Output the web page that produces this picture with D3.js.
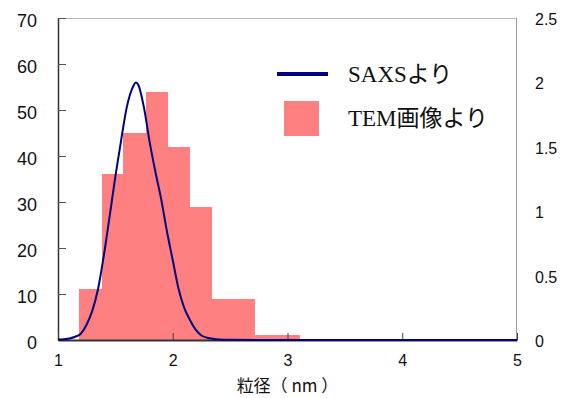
<!DOCTYPE html>
<html>
<head>
<meta charset="utf-8">
<script src="https://cdn.jsdelivr.net/npm/d3@7"></script>
<style>
  body { margin: 0; background: #fff; }
  svg { display: block; }
</style>
</head>
<body>
<div class="chart"></div>
<script>
// Histogram from TEM images (left axis, counts)
var binStart = [1.18, 1.38, 1.57, 1.77, 1.96, 2.15, 2.34, 2.53, 2.72, 2.92];
var binEnd   = [1.38, 1.57, 1.77, 1.96, 2.15, 2.34, 2.53, 2.72, 2.92, 3.11];
var temCount = [11, 36, 45, 54, 42, 29, 9, 9, 1, 1];

// SAXS size distribution (right axis)
var saxsSize = [1.00, 1.05, 1.10, 1.15, 1.20, 1.25, 1.30, 1.35, 1.40, 1.45, 1.50, 1.55, 1.60, 1.65, 1.68, 1.70,
                1.75, 1.80, 1.85, 1.90, 1.95, 2.00, 2.05, 2.10, 2.15, 2.20, 2.25, 2.30, 2.35, 2.40, 2.50, 5.00];
var saxsValue = [0.003, 0.006, 0.012, 0.025, 0.05, 0.12, 0.23, 0.40, 0.66, 0.96, 1.27, 1.55, 1.81, 1.96, 2.00, 1.98,
                 1.80, 1.53, 1.30, 1.09, 0.84, 0.62, 0.40, 0.25, 0.155, 0.08, 0.035, 0.018, 0.009, 0.004, 0.001, 0];

var xTicks = [1, 2, 3, 4, 5];
var yLeftTicks = [0, 10, 20, 30, 40, 50, 60, 70];
var yRightTicks = [0, 0.5, 1, 1.5, 2, 2.5];

var legendNames = ["SAXSより", "TEM画像より"];
var xTitle = "粒径（ nm ）";

// Set SVG dimensions
var svgWidth = 574;
var svgHeight = 398;

var margin = { top: 18, right: 57, bottom: 58, left: 58 };
var width = svgWidth - margin.left - margin.right;
var height = svgHeight - margin.top - margin.bottom;

var svg = d3.select(".chart")
  .append("svg")
  .attr("width", svgWidth)
  .attr("height", svgHeight);

var chartGroup = svg.append("g")
  .attr("transform", `translate(${margin.left}, ${margin.top})`);

// Scales
var xScale = d3.scaleLinear().domain([1, 5]).range([0, width]);
var yLeft = d3.scaleLinear().domain([0, 70]).range([height, 0]);
var yRight = d3.scaleLinear().domain([0, 2.5]).range([height, 0]);

var tickFont = "'Liberation Sans', Arial, sans-serif";

// Frame (top and right borders)
chartGroup.append("line")
  .attr("x1", 0).attr("x2", width).attr("y1", 0.5).attr("y2", 0.5)
  .attr("stroke", "#b4b4b4").attr("stroke-width", 1);
chartGroup.append("line")
  .attr("x1", width - 0.5).attr("x2", width - 0.5).attr("y1", 0).attr("y2", height)
  .attr("stroke", "#9a9a9a").attr("stroke-width", 1);

// Bars
chartGroup.selectAll("rect.bar")
  .data(temCount)
  .enter()
  .append("rect")
  .attr("class", "bar")
  .attr("x", (d, i) => Math.round(xScale(binStart[i])))
  .attr("width", (d, i) => Math.round(xScale(binEnd[i])) - Math.round(xScale(binStart[i])))
  .attr("y", d => Math.round(yLeft(d)))
  .attr("height", d => height - Math.round(yLeft(d)))
  .attr("fill", "#ff8080")
  .attr("shape-rendering", "crispEdges");

// Left axis
var yAxisLeft = d3.axisLeft(yLeft).tickValues(yLeftTicks).tickSizeInner(-8).tickSizeOuter(0).tickPadding(21);
var gL = chartGroup.append("g").call(yAxisLeft);
gL.select(".domain").attr("stroke", "#333").attr("stroke-width", 1.5);
gL.selectAll(".tick line").attr("stroke", "#555");
gL.selectAll(".tick text")
  .attr("font-family", tickFont)
  .attr("font-size", 18)
  .attr("fill", "#111")
  .attr("dy", "0.45em");

// Bottom axis
var xAxis = d3.axisBottom(xScale).tickValues(xTicks).tickSizeInner(-7).tickSizeOuter(0).tickPadding(15).tickFormat(d3.format("d"));
var gB = chartGroup.append("g").attr("transform", `translate(0, ${height})`).call(xAxis);
gB.select(".domain").attr("stroke", "#333").attr("stroke-width", 2);
gB.selectAll(".tick line").attr("stroke", "#444");
gB.selectAll(".tick text")
  .attr("font-family", tickFont)
  .attr("font-size", 16)
  .attr("fill", "#111");

// Right axis (labels only)
var yAxisRight = d3.axisRight(yRight).tickValues(yRightTicks).tickSize(0).tickPadding(18).tickFormat(d => String(d));
var gR = chartGroup.append("g").attr("transform", `translate(${width}, 0)`).call(yAxisRight);
gR.select(".domain").remove();
gR.selectAll(".tick text")
  .attr("font-family", tickFont)
  .attr("font-size", 16)
  .attr("fill", "#111")
  .attr("dy", "0.4em");

// SAXS line
var line = d3.line()
  .x((d, i) => xScale(saxsSize[i]))
  .y(d => yRight(d))
  .curve(d3.curveMonotoneX);

chartGroup.append("path")
  .datum(saxsValue)
  .attr("d", line)
  .attr("fill", "none")
  .attr("stroke", "#000080")
  .attr("stroke-width", 2);

// X axis title
svg.append("text")
  .attr("x", margin.left + width / 2)
  .attr("y", 392)
  .attr("text-anchor", "middle")
  .attr("font-family", "'Noto Sans CJK JP', sans-serif")
  .attr("font-size", 17)
  .attr("fill", "#111")
  .text(xTitle);

// Legend
var legendFont = "'Liberation Serif', 'Times New Roman', 'Noto Sans CJK JP', serif";
var legend = svg.append("g");
legend.append("line")
  .attr("x1", 277).attr("x2", 328).attr("y1", 74).attr("y2", 74)
  .attr("stroke", "#000080").attr("stroke-width", 4);
legend.append("rect")
  .attr("x", 284).attr("y", 101).attr("width", 35).attr("height", 35)
  .attr("fill", "#ff8080");
legend.selectAll("text")
  .data(legendNames)
  .enter()
  .append("text")
  .attr("x", 348)
  .attr("y", (d, i) => 74 + i * 44)
  .attr("dy", "0.35em")
  .attr("font-family", legendFont)
  .attr("font-size", 23)
  .attr("fill", "#111")
  .text(d => d);
</script>
</body>
</html>
